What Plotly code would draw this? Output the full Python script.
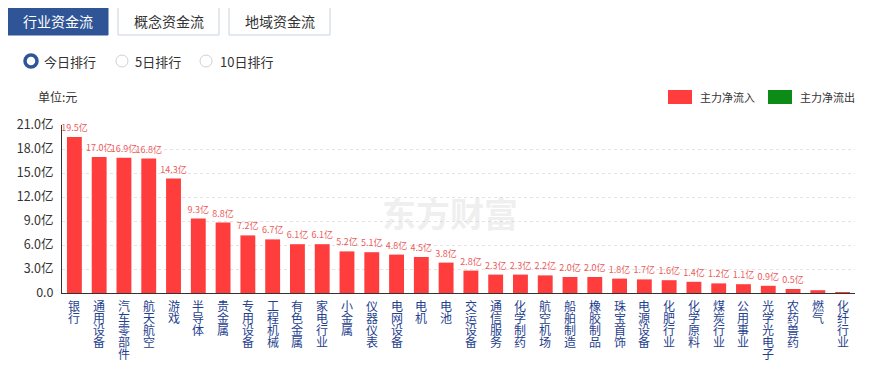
import plotly.graph_objects as go

categories = ["银行", "通用设备", "汽车零部件", "航天航空", "游戏", "半导体", "贵金属", "专用设备",
              "工程机械", "有色金属", "家电行业", "小金属", "仪器仪表", "电网设备", "电机", "电池",
              "交运设备", "通信服务", "化学制药", "航空机场", "船舶制造", "橡胶制品", "珠宝首饰", "电源设备",
              "化肥行业", "化学原料", "煤炭行业", "公用事业", "光学光电子", "农药兽药", "燃气", "化纤行业"]
inflow = [19.5, 17.0, 16.9, 16.8, 14.3, 9.3, 8.8, 7.2, 6.7, 6.1, 6.1, 5.2, 5.1, 4.8, 4.5, 3.8,
          2.8, 2.3, 2.3, 2.2, 2.0, 2.0, 1.8, 1.7, 1.6, 1.4, 1.2, 1.1, 0.9, 0.5, 0.35, 0.1]
value_labels = ["19.5亿", "17.0亿", "16.9亿", "16.8亿", "14.3亿", "9.3亿", "8.8亿", "7.2亿", "6.7亿",
                "6.1亿", "6.1亿", "5.2亿", "5.1亿", "4.8亿", "4.5亿", "3.8亿", "2.8亿", "2.3亿", "2.3亿",
                "2.2亿", "2.0亿", "2.0亿", "1.8亿", "1.7亿", "1.6亿", "1.4亿", "1.2亿", "1.1亿", "0.9亿",
                "0.5亿", "", ""]
ytick_vals = [0, 3, 6, 9, 12, 15, 18, 21]
ytick_text = ["0.0", "3.0亿", "6.0亿", "9.0亿", "12.0亿", "15.0亿", "18.0亿", "21.0亿"]
buttons = ["行业资金流", "概念资金流", "地域资金流"]
radios = ["今日排行", "5日排行", "10日排行"]
legend_names = ["主力净流入", "主力净流出"]

FONT = "Noto Sans CJK SC"
# page body has an 8px margin; the figure is placed at (8, 8) in the window
OFF = 8
W, H = 874 - 2 * OFF, 369 - 2 * OFF
L, R, T, B = 62, 855, 125, 293   # plot area in window pixels

def px(x):
    return (x - L) / (R - L)

def py(y):
    return (B - y) / (B - T)

fig = go.Figure()
fig.add_trace(go.Bar(
    x=categories, y=inflow, width=0.6,
    marker=dict(color="#ff3d3d", line=dict(width=0)),
    text=value_labels, textposition="outside", constraintext="none",
    textfont=dict(size=9, color="#ec5b5b", family=FONT),
    cliponaxis=False, showlegend=False, hoverinfo="x+y",
))

fig.update_layout(
    width=W, height=H,
    margin=dict(l=L - OFF, r=W - (R - OFF), t=T - OFF, b=H - (B - OFF), pad=0),
    plot_bgcolor="white", paper_bgcolor="white",
    font=dict(family=FONT),
    xaxis=dict(
        range=[-0.5, len(categories) - 0.5], automargin=False,
        showticklabels=False,
        showline=True, linecolor="#333333", linewidth=1,
        showgrid=False, ticks="", fixedrange=True,
    ),
    yaxis=dict(
        range=[0, 21], automargin=False,
        tickmode="array", tickvals=ytick_vals, ticktext=ytick_text,
        tickfont=dict(size=12.5, color="#333333", family=FONT),
        showline=True, linecolor="#333333", linewidth=1,
        showgrid=True, gridcolor="#e3e3e3", griddash="dot", gridwidth=1,
        zeroline=False, ticks="", ticklabelstandoff=5,
    ),
)

shapes = []
annotations = []

# vertical category labels (one character per line)
for cat in categories:
    for j, ch in enumerate(cat):
        annotations.append(dict(xref="x", yref="paper", x=cat, y=py(305 + 12 * j),
                                text=ch, showarrow=False, xanchor="center", yanchor="middle",
                                borderpad=0,
                                font=dict(size=12, color="#1f3f8f", family=FONT)))

# top buttons
btn_x = [(8, 108), (118, 219), (229, 330)]
for i, (name, (x0, x1)) in enumerate(zip(buttons, btn_x)):
    active = i == 0
    shapes.append(dict(type="rect", xref="paper", yref="paper",
                       x0=px(x0), x1=px(x1), y0=py(35), y1=py(7),
                       fillcolor="#2f5596" if active else "white",
                       line=dict(color="#2f5596" if active else "#c8d2e0", width=1)))
    annotations.append(dict(xref="paper", yref="paper", x=px((x0 + x1) / 2), y=py(21),
                            text=name, showarrow=False, xanchor="center", yanchor="middle",
                            font=dict(size=14, color="white" if active else "#333333", family=FONT)))

# radio buttons
radio_pos = [(31, 42), (122, 133), (206, 218)]
for i, (name, (cx, tx)) in enumerate(zip(radios, radio_pos)):
    r = 6
    if i == 0:
        shapes.append(dict(type="circle", xref="paper", yref="paper",
                           x0=px(cx - r), x1=px(cx + r), y0=py(61 + r), y1=py(61 - r),
                           fillcolor="white", line=dict(color="#2f5596", width=3.5)))
    else:
        shapes.append(dict(type="circle", xref="paper", yref="paper",
                           x0=px(cx - r), x1=px(cx + r), y0=py(61 + r), y1=py(61 - r),
                           fillcolor="white", line=dict(color="#d0d0d0", width=1)))
    annotations.append(dict(xref="paper", yref="paper", x=px(tx), y=py(61),
                            text=name, showarrow=False, xanchor="left", yanchor="middle",
                            font=dict(size=13, color="#333333", family=FONT)))

# unit label
annotations.append(dict(xref="paper", yref="paper", x=px(36), y=py(97),
                        text="单位:元", showarrow=False, xanchor="left", yanchor="middle",
                        font=dict(size=12, color="#333333", family=FONT)))

# legend
leg = [(668, 698, "#ff3d3d"), (768, 798, "#0c8c16")]
for name, (x0, tx, col) in zip(legend_names, leg):
    shapes.append(dict(type="rect", xref="paper", yref="paper",
                       x0=px(x0), x1=px(x0 + 24), y0=py(104), y1=py(90),
                       fillcolor=col, line=dict(width=0)))
    annotations.append(dict(xref="paper", yref="paper", x=px(tx), y=py(97),
                            text=name, showarrow=False, xanchor="left", yanchor="middle",
                            font=dict(size=11, color="#333333", family=FONT)))

# watermark
annotations.append(dict(xref="paper", yref="paper", x=px(450), y=py(212),
                        text="<b>东方财富</b>", showarrow=False, xanchor="center", yanchor="middle",
                        font=dict(size=34, color="rgba(200,200,200,0.3)", family=FONT)))

fig.update_layout(shapes=shapes, annotations=annotations)
fig.write_html("out.html")
